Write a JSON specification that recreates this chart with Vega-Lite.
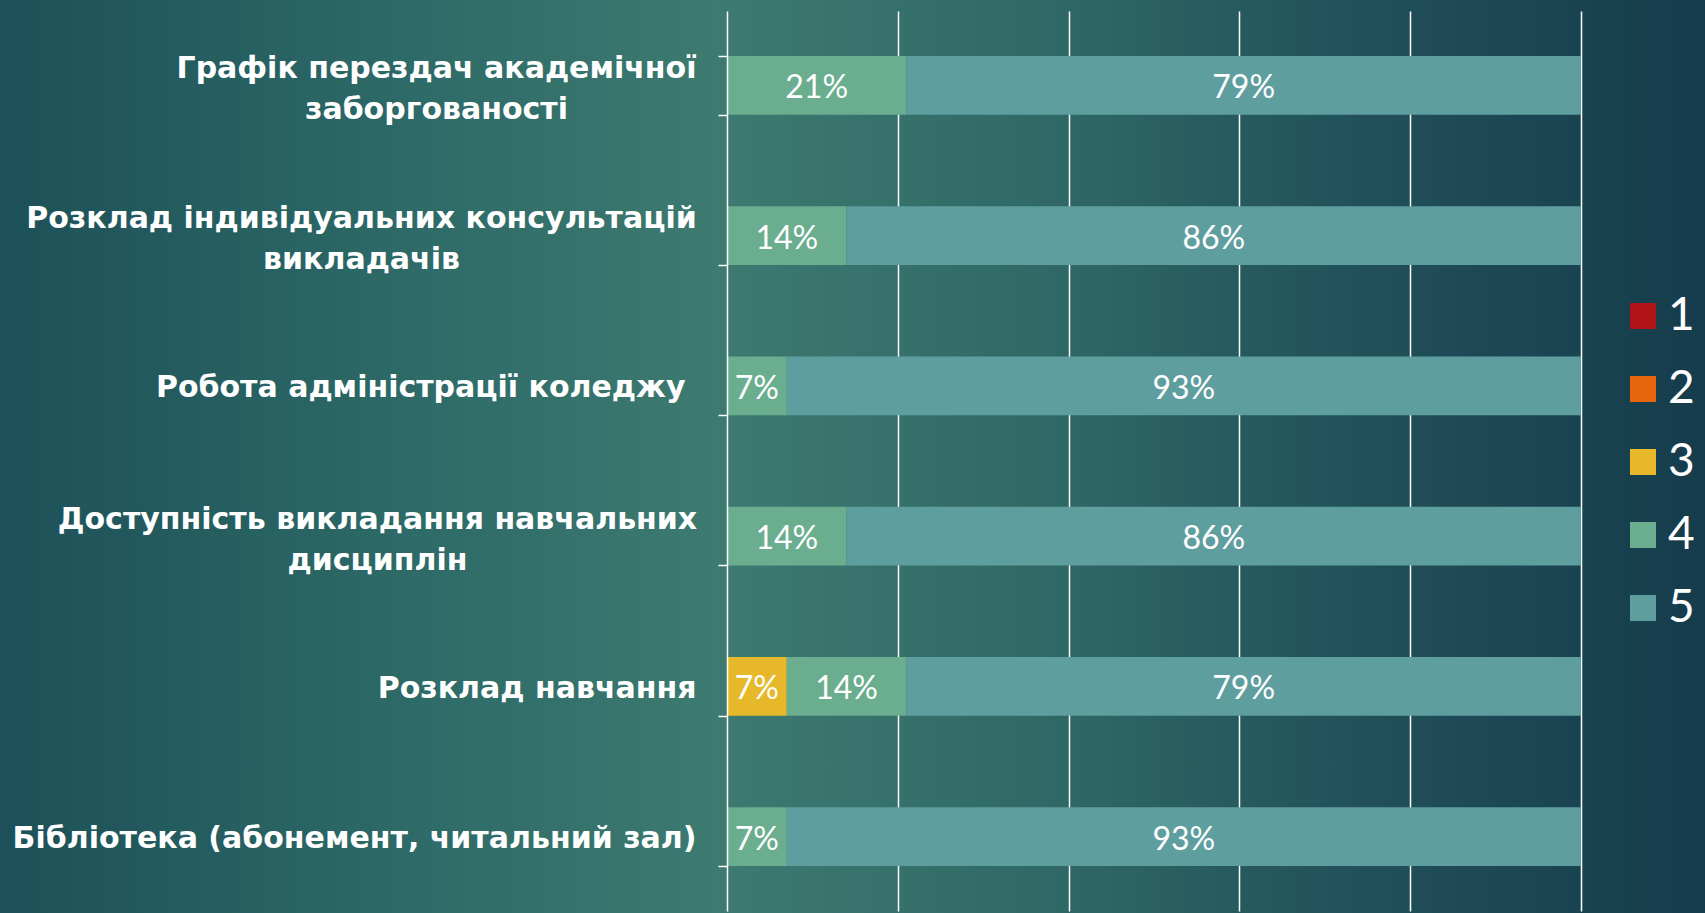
{
  "$schema": "https://vega.github.io/schema/vega-lite/v6.json",
  "width": 1705,
  "height": 913,
  "autosize": {"type": "none"},
  "padding": 0,
  "background": "#2a6064",
  "config": {
    "view": {
      "stroke": null,
      "fill": {
        "gradient": "linear",
        "x1": 0, "y1": 0, "x2": 1, "y2": 0,
        "stops": [
          {"offset": 0, "color": "#1d5058"},
          {"offset": 0.22, "color": "#2c6866"},
          {"offset": 0.42, "color": "#3d7a70"},
          {"offset": 0.62, "color": "#2f6866"},
          {"offset": 0.8, "color": "#21505a"},
          {"offset": 1, "color": "#153c4c"}
        ]
      }
    }
  },
  "data": {
    "values": [
      {"category": "Графік перездач академічної заборгованості", "grade": "4", "value": 0.21},
      {"category": "Графік перездач академічної заборгованості", "grade": "5", "value": 0.79},
      {"category": "Розклад індивідуальних консультацій викладачів", "grade": "4", "value": 0.14},
      {"category": "Розклад індивідуальних консультацій викладачів", "grade": "5", "value": 0.86},
      {"category": "Робота адміністрації коледжу", "grade": "4", "value": 0.07},
      {"category": "Робота адміністрації коледжу", "grade": "5", "value": 0.93},
      {"category": "Доступність викладання навчальних дисциплін", "grade": "4", "value": 0.14},
      {"category": "Доступність викладання навчальних дисциплін", "grade": "5", "value": 0.86},
      {"category": "Розклад навчання", "grade": "3", "value": 0.07},
      {"category": "Розклад навчання", "grade": "4", "value": 0.14},
      {"category": "Розклад навчання", "grade": "5", "value": 0.79},
      {"category": "Бібліотека (абонемент, читальний зал)", "grade": "4", "value": 0.07},
      {"category": "Бібліотека (абонемент, читальний зал)", "grade": "5", "value": 0.93}
    ]
  },
  "transform": [
    {"stack": "value", "groupby": ["category"], "sort": [{"field": "grade", "order": "ascending"}], "as": ["x0", "x1"]},
    {"calculate": "(datum.x0 + datum.x1) / 2", "as": "mid"}
  ],
  "encoding": {
    "y": {
      "field": "category",
      "type": "nominal",
      "sort": [
        "Графік перездач академічної заборгованості",
        "Розклад індивідуальних консультацій викладачів",
        "Робота адміністрації коледжу",
        "Доступність викладання навчальних дисциплін",
        "Розклад навчання",
        "Бібліотека (абонемент, читальний зал)"
      ],
      "scale": {"range": [11, 911], "paddingInner": 0.61, "paddingOuter": 0.3},
      "axis": {
        "title": null,
        "offset": -727,
        "zindex": 1,
        "domainColor": "#ffffff",
        "domainWidth": 1.5,
        "tickColor": "#ffffff",
        "tickWidth": 1.5,
        "tickSize": 9,
        "tickBand": "extent",
        "labelColor": "#ffffff",
        "labelFont": "DejaVu Sans",
        "labelFontWeight": "bold",
        "labelFontSize": 30,
        "labelLineHeight": 41,
        "labelLimit": 0,
        "labelAlign": {"expr": "(datum.value == 'Графік перездач академічної заборгованості' || datum.value == 'Розклад індивідуальних консультацій викладачів' || datum.value == 'Доступність викладання навчальних дисциплін') ? 'center' : 'right'"},
        "labelPadding": {"expr": "datum.value == 'Графік перездач академічної заборгованості' ? 282 : datum.value == 'Розклад індивідуальних консультацій викладачів' ? 357 : datum.value == 'Доступність викладання навчальних дисциплін' ? 341 : datum.value == 'Робота адміністрації коледжу' ? 33 : 22"},
        "labelOffset": {"expr": "(datum.value == 'Графік перездач академічної заборгованості' || datum.value == 'Розклад індивідуальних консультацій викладачів' || datum.value == 'Доступність викладання навчальних дисциплін') ? -17 : 2"},
        "labelExpr": "datum.label == 'Графік перездач академічної заборгованості' ? ['Графік перездач академічної', 'заборгованості'] : datum.label == 'Розклад індивідуальних консультацій викладачів' ? ['Розклад індивідуальних консультацій', 'викладачів'] : datum.label == 'Доступність викладання навчальних дисциплін' ? ['Доступність викладання навчальних', 'дисциплін'] : datum.label"
      }
    }
  },
  "layer": [
    {
      "mark": {"type": "bar"},
      "encoding": {
        "x": {
          "field": "x0",
          "type": "quantitative",
          "scale": {"domain": [0, 1], "range": [727, 1581], "nice": false, "zero": false},
          "axis": {
            "title": null,
            "orient": "top",
            "values": [0.2, 0.4, 0.6, 0.8, 1],
            "labels": false,
            "ticks": false,
            "domain": false,
            "grid": true,
            "gridColor": "#ffffff",
            "gridWidth": 1.5
          }
        },
        "x2": {"field": "x1"},
        "color": {
          "field": "grade",
          "type": "nominal",
          "scale": {
            "domain": ["1", "2", "3", "4", "5"],
            "range": ["#b01416", "#e8650f", "#e6b82a", "#6aae8f", "#5f9e9f"]
          },
          "legend": {
            "title": null,
            "orient": "none",
            "legendX": 1620,
            "legendY": 293,
            "padding": 0,
            "symbolType": "square",
            "symbolSize": 676,
            "symbolStrokeWidth": 0,
            "symbolOpacity": 1,
            "labelColor": "#ffffff",
            "labelFont": "Lato",
            "labelFontSize": 46,
            "labelOffset": 2,
            "rowPadding": 27
          }
        }
      }
    },
    {
      "mark": {"type": "text", "color": "#ffffff", "font": "Lato", "fontSize": 32, "align": "center", "baseline": "middle", "dy": 3},
      "encoding": {
        "x": {"field": "mid", "type": "quantitative"},
        "text": {"field": "value", "type": "quantitative", "format": ".0%"}
      }
    }
  ]
}
